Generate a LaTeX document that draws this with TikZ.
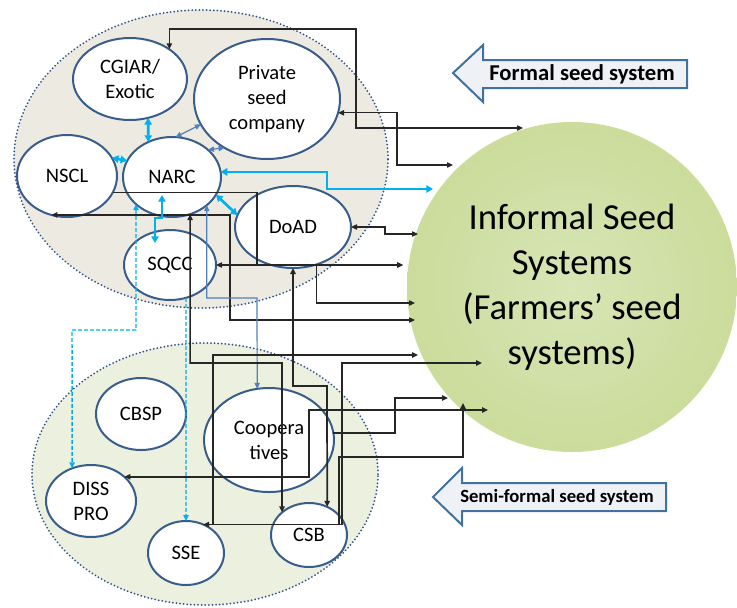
\documentclass[tikz,border=0pt]{standalone}
\usepackage{fontspec}
\setmainfont{Carlito}
\usetikzlibrary{arrows.meta,shapes.geometric,calc}
\definecolor{nodeblue}{RGB}{56,93,138}
\definecolor{groupblue}{RGB}{47,82,143}
\definecolor{formalfill}{RGB}{237,235,225}
\definecolor{semifill}{RGB}{235,240,223}
\definecolor{informalin}{RGB}{216,229,182}
\definecolor{informalout}{RGB}{203,220,155}
\definecolor{linkgray}{RGB}{38,38,38}
\definecolor{narccyan}{RGB}{0,176,240}
\definecolor{softblue}{RGB}{79,129,189}
\definecolor{bannerblue}{RGB}{65,113,156}
\definecolor{bannerfill}{RGB}{238,241,246}

\begin{document}
\begin{tikzpicture}[
x=0.75pt, y=-0.75pt,
>={Triangle[length=4.5pt,width=4pt]},
actor/.style={ellipse, draw=nodeblue, line width=1.5pt, fill=white, inner sep=0pt, outer sep=0pt, align=center, font=\fontsize{15.4}{18.8}\selectfont},
group/.style={ellipse, draw=groupblue, line width=1.5pt, dash pattern=on 0pt off 2.7pt, line cap=round, inner sep=0pt},
link/.style={draw=linkgray, line width=0.9pt},
heavylink/.style={draw=linkgray, line width=1.3pt},
cyanlink/.style={draw=narccyan, line width=2pt, >={Triangle[length=5pt,width=5.5pt]}},
softlink/.style={draw=softblue, line width=0.9pt},
dashlink/.style={draw=narccyan, line width=1.1pt, dash pattern=on 3pt off 1.5pt},
banner/.style={draw=bannerblue, line width=1.5pt, fill=bannerfill}
]
\useasboundingbox (0,0) rectangle (737,607);

\node[group, fill=formalfill, minimum width=280.5pt, minimum height=223.5pt] (formal) at (201,159) {};
\node[group, fill=semifill, minimum width=259.5pt, minimum height=196.5pt] (semi) at (205,474) {};
\node[circle, inner color=informalin, outer color=informalout, minimum size=247.5pt, inner sep=0pt, align=center, font=\fontsize{27.5}{33.75}\selectfont] (isys) at (572,287) {Informal Seed\\Systems\\(Farmers’ seed\\systems)};

\draw[banner] (453,73) -- (483,45) -- (483,60) -- (687,60) -- (687,88) -- (483,88) -- (483,102) -- cycle;
\node[font=\bfseries\fontsize{17}{20}\selectfont] (formaltag) at (582,74) {Formal seed system};
\draw[banner] (433,497) -- (462,468) -- (462,483) -- (666,483) -- (666,511) -- (462,511) -- (462,525) -- cycle;
\node[font=\bfseries\fontsize{14}{17}\selectfont] (semitag) at (557,497) {Semi-formal seed system};

\node[actor, minimum width=85.5pt, minimum height=61.5pt] (cgiar) at (130,79) {CGIAR/\\Exotic};
\node[actor, minimum width=109.5pt, minimum height=90pt] (priv) at (267,99) {Private\\seed\\company};
\node[actor, minimum width=75pt, minimum height=61.5pt] (nscl) at (67,176) {NSCL};
\node[actor, minimum width=73.5pt, minimum height=60pt] (narc) at (172,177) {NARC};
\node[actor, minimum width=87pt, minimum height=61.5pt] (doad) at (293,227) {DoAD};
\node[actor, minimum width=69pt, minimum height=52.5pt] (sqcc) at (170,265) {SQCC};
\node[actor, minimum width=67.5pt, minimum height=54pt] (cbsp) at (141,414) {CBSP};
\node[actor, minimum width=97.5pt, minimum height=78pt] (coop) at (269,440) {Coopera\\tives};
\node[actor, minimum width=67.5pt, minimum height=54pt] (diss) at (91,501) {DISS\\PRO};
\node[actor, minimum width=57pt, minimum height=48pt] (sse) at (186,553) {SSE};
\node[actor, minimum width=57pt, minimum height=48pt] (csb) at (309,535) {CSB};

\foreach \n/\x/\y in {1/523/128, 2/453/165, 3/433/189, 4/418/234, 5/403/265, 6/415/303, 7/415/320, 8/418/355, 9/482/363, 10/448/398, 11/463/403, 12/488/410}
  \coordinate (in\n) at (\x,\y);

\draw[link, <->] (cgiar.37) |- (356,29) |- (in1);
\draw[link, <->] (priv.-11) -| (397,165) -- (in2);
\draw[cyanlink, <->] (narc.6) -| (327,189) -- (in3);
\draw[link, <->] (doad.east) -| (385,234) -- (in4);
\draw[link, ->] (nscl.-20) -| (257,265) -- (in5);
\draw[link, <->] (sqcc.east) -- (in5);
\draw[link, ->] (doad.-58) |- (in6);
\draw[link, <->] (nscl.-112) -| (230,320) -- (in7);

\draw[cyanlink, <->] (nscl.22) -- (narc.160);
\draw[cyanlink, <->] (cgiar.-65) -- (narc.124);
\draw[cyanlink, <->] (narc.-22) -- (doad.168);
\draw[cyanlink, <->] ($(narc)+(-10,18)$) -- ++(0,23) -| ($(sqcc)+(-15,-22)$);
\draw[softlink, <->] (narc.85) -- (priv.-159);
\draw[softlink, <->] (narc.37) -- (priv.-131);
\draw[softlink, <->] (narc.-39) |- (257,298) -- (coop.103);
\draw[dashlink, <->] (narc.-143) |- (72,330) -- (diss.120);
\draw[dashlink, ->] (sqcc.-64) -- (sse.north);

\draw[heavylink, <->] (narc.-64) |- (282,363) -- (csb.140);
\draw[heavylink, <->] (doad.south) |- (327,386) -- (csb.57);
\draw[heavylink, <->] (sse.59) -| (342,363) -- (in9);
\draw[heavylink, ->] ($(sse.59)+(10,0)$) |- (in8);
\draw[heavylink, ->] ($(csb)+(30,-10)$) |- (463,457) -- (in11);
\draw[heavylink, <->] (diss.36) -| (309,410) -- (in12);
\draw[heavylink, ->] (coop.6) -| (395,398) -- (in10);
\end{tikzpicture}
\end{document}
